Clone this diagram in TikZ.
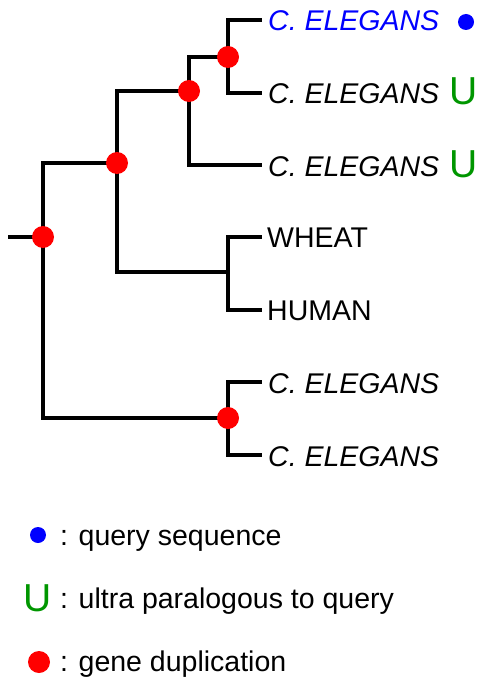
\documentclass[tikz,border=0pt]{standalone}
\usepackage{fontspec}
\setmainfont{Liberation Sans}
\usepackage{tikz}
\usetikzlibrary{positioning}

\definecolor{dupred}{RGB}{255,0,0}
\definecolor{queryblue}{RGB}{0,0,255}
\definecolor{ultragreen}{RGB}{0,150,0}

\begin{document}
\begin{tikzpicture}[
  x=1pt,y=-1pt,
  every node/.style={font=\fontsize{28.5}{32}\selectfont},
  branch/.style={line width=4pt,line cap=rect,line join=miter},
  dup/.style={circle,fill=dupred,inner sep=0pt,minimum size=22pt},
  query/.style={circle,fill=queryblue,inner sep=0pt,minimum size=16pt},
  ultra/.style={text=ultragreen,font=\fontsize{39}{40}\selectfont,inner sep=0pt,anchor=base},
  leaf/.style={anchor=base west,inner sep=0pt},
  legend/.style={anchor=base west,inner sep=0pt},
]
\useasboundingbox (0,0) rectangle (479,679);

% leaves
\coordinate (l1) at (260,20);
\coordinate (l2) at (260,93);
\coordinate (l3) at (260,165);
\coordinate (l4) at (260,237);
\coordinate (l5) at (260,310);
\coordinate (l6) at (260,382);
\coordinate (l7) at (260,455);

% internal nodes
\coordinate (root) at (43,237);
\coordinate (rootstub) at (10,237);
\coordinate (n3) at (117,163);
\coordinate (n2) at (189,91);
\coordinate (n1) at (228,57);
\coordinate (n4) at (228,272);
\coordinate (n5) at (228,418);

% branches
\draw[branch] (rootstub) -- (root);
\draw[branch] (n3) -| (root) |- (n5);
\draw[branch] (n2) -| (n3) |- (n4);
\draw[branch] (n1) -| (n2) |- (l3);
\draw[branch] (l1) -| (n1) |- (l2);
\draw[branch] (l4) -| (n4) |- (l5);
\draw[branch] (l6) -| (n5) |- (l7);

% duplications
\node[dup] (d0) at (root) {};
\node[dup] (d3) at (n3) {};
\node[dup] (d2) at (n2) {};
\node[dup] (d1) at (n1) {};
\node[dup] (d5) at (n5) {};

% labels
\node[leaf,text=queryblue] (t1) at (268,31) {\itshape C. ELEGANS};
\node[leaf] (t2) at (268,104) {\itshape C. ELEGANS};
\node[leaf] (t3) at (268,176) {\itshape C. ELEGANS};
\node[leaf] (t4) at (267,247) {WHEAT};
\node[leaf] (t5) at (267,320) {HUMAN};
\node[leaf] (t6) at (268,393) {\itshape C. ELEGANS};
\node[leaf] (t7) at (268,466) {\itshape C. ELEGANS};

\node[query] (q) at (466,22) {};
\node[ultra] (u2) at (464,105) {U};
\node[ultra] (u3) at (464,177) {U};

% legend
\node[query] (lq) at (38,535) {};
\node[legend] (lqt) at (60,545) {: query sequence};
\node[ultra] (lu) at (38,611) {U};
\node[legend] (lut) at (60,608) {: ultra paralogous to query};
\node[dup] (ld) at (39,662) {};
\node[legend] (ldt) at (60,671) {: gene duplication};
\end{tikzpicture}
\end{document}
